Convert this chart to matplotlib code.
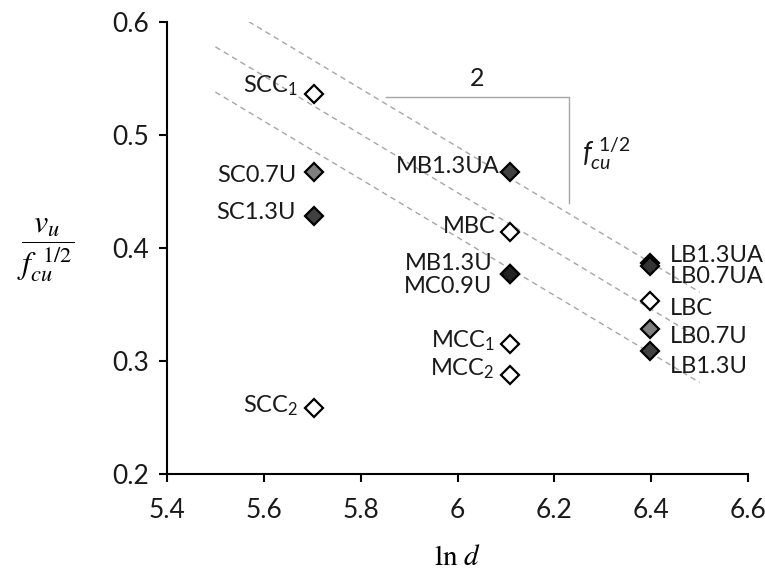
import matplotlib
matplotlib.use('Agg')
import matplotlib.pyplot as plt

plt.rcParams['font.family'] = ['Lato', 'DejaVu Sans']
plt.rcParams['mathtext.fontset'] = 'custom'
plt.rcParams['mathtext.rm'] = 'Lato'
plt.rcParams['mathtext.it'] = 'Lato:italic'
plt.rcParams['mathtext.bf'] = 'Lato:bold'

# Donnees
specimens = ['SCC$_1$', 'SC0.7U', 'SC1.3U', 'SCC$_2$',
             'MB1.3UA', 'MBC', 'MB1.3U', 'MC0.9U', 'MCC$_1$', 'MCC$_2$',
             'LB1.3UA', 'LB0.7UA', 'LBC', 'LB0.7U', 'LB1.3U']
ln_d = [5.704, 5.704, 5.704, 5.704,
        6.109, 6.109, 6.109, 6.109, 6.109, 6.109,
        6.397, 6.397, 6.397, 6.397, 6.397]
vu_ratio = [0.536, 0.467, 0.428, 0.258,
            0.467, 0.414, 0.377, 0.377, 0.315, 0.288,
            0.387, 0.384, 0.353, 0.328, 0.309]
face = ['white', '#7f7f7f', '#404040', 'white',
        '#404040', 'white', '#222222', '#222222', 'white', 'white',
        '#222222', '#333333', 'white', '#7f7f7f', '#404040']

# lignes de tendance (pente commune)
guide_x = [5.5, 6.5]
guide_y = [[0.618, 0.361], [0.578, 0.320], [0.538, 0.281]]
# triangle de pente
slope_x = [5.853, 6.230, 6.230]
slope_y = [0.534, 0.534, 0.440]

xticks = [5.4, 5.6, 5.8, 6.0, 6.2, 6.4, 6.6]
xtick_labels = ['5.4', '5.6', '5.8', '6', '6.2', '6.4', '6.6']
yticks = [0.2, 0.3, 0.4, 0.5, 0.6]
ytick_labels = ['0.2', '0.3', '0.4', '0.5', '0.6']

# decalage des etiquettes (pixels), cote gauche ou droit
label_dx = [-16, -18, -18, -16, -11, -15, -18, -18, -15, -16, 20, 20, 20, 20, 20]
label_dy = [2, -10, -3, -4, -1, -1, 4, -19, -3, -1, 1, -17, -14, -14, -22]

fig = plt.figure(figsize=(7.65, 5.77), dpi=100)
ax = fig.add_axes([0.2183, 0.1785, 0.7595, 0.7834])

for gy in guide_y:
    ax.plot(guide_x, gy, color='#a6a6a6', lw=1.0, dashes=(4, 3), zorder=1)
ax.plot(slope_x, slope_y, color='#a6a6a6', lw=1.0, zorder=1)

for i in range(len(specimens)):
    ax.plot(ln_d[i], vu_ratio[i], marker='D', ms=9.5, mfc=face[i], mec='black',
            mew=1.6, ls='none', zorder=3)
    ha = 'right' if label_dx[i] < 0 else 'left'
    ax.annotate(specimens[i], (ln_d[i], vu_ratio[i]),
                xytext=(label_dx[i] * 0.72, label_dy[i] * 0.72),
                textcoords='offset points', ha=ha, va='baseline',
                fontsize=17, color='#1a1a1a', zorder=4)

ax.text(6.04, 0.55, '2', fontsize=18, ha='center', va='center', color='#1a1a1a')
ax.text(6.258, 0.476, r'$f_{cu}^{\ 1/2}$', fontsize=20, ha='left', va='baseline',
        color='#1a1a1a')

ax.set_xlim(5.4, 6.6)
ax.set_ylim(0.2, 0.6)
ax.set_xticks(xticks)
ax.set_xticklabels(xtick_labels)
ax.set_yticks(yticks)
ax.set_yticklabels(ytick_labels)
ax.spines['top'].set_visible(False)
ax.spines['right'].set_visible(False)
ax.spines['left'].set_linewidth(1.5)
ax.spines['bottom'].set_linewidth(1.5)
ax.tick_params(direction='out', length=6, width=1.5, labelsize=19, pad=7,
               colors='black', labelcolor='#1a1a1a')
ax.tick_params(axis='x', pad=11)

fig.text(0.059, 1 - 250 / 577, r'$\dfrac{v_u}{f_{cu}^{\ \,1/2}}$', math_fontfamily='stix',
         fontsize=23, ha='center', va='center')
fig.text(458 / 765, 1 - 557 / 577, r'$\mathrm{ln}\ d$', math_fontfamily='stix',
         fontsize=21, ha='center', va='center')

fig.savefig('out.png', dpi=100)
